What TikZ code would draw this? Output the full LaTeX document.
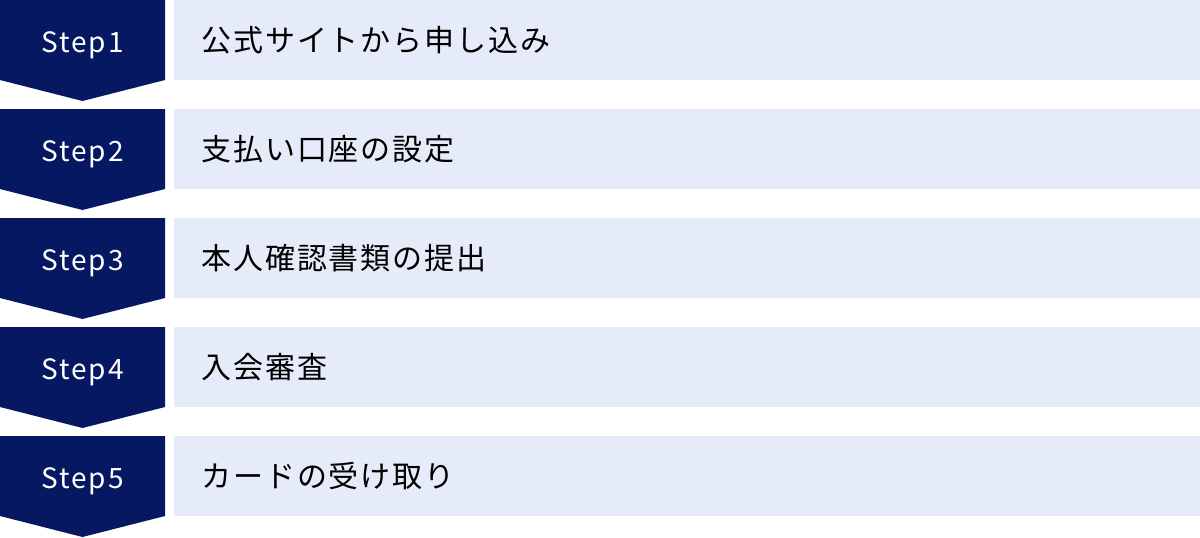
\documentclass[tikz,border=0pt]{standalone}
\usepackage{fontspec}
\setmainfont{Noto Sans CJK JP}
\newfontfamily\stepfont[LetterSpace=7]{Noto Sans CJK JP}
\newfontfamily\boxfont[LetterSpace=6.5]{Noto Sans CJK JP}
\usetikzlibrary{positioning}

\definecolor{navy}{HTML}{061862}
\definecolor{pale}{HTML}{E5EBF8}

\begin{document}
\begin{tikzpicture}[x=1pt,y=1pt,
  lbl/.style={text=white,inner sep=0pt,anchor=base,font=\stepfont\fontsize{28}{32}\selectfont},
  txt/.style={inner sep=0pt,anchor=base west,font=\boxfont\fontsize{30}{34}\selectfont}]
\useasboundingbox (0,0) rectangle (1200,-538);
\foreach \i/\t in {1/公式サイトから申し込み,2/支払い口座の設定,3/本人確認書類の提出,4/入会審査,5/カードの受け取り}{
  \pgfmathsetmacro{\yy}{-(\i-1)*109}
  \fill[navy] (0,\yy) -- (165,\yy) -- (165,\yy-80) -- (82.5,\yy-101) -- (0,\yy-80) -- cycle;
  \fill[pale] (174,\yy) rectangle (1200,\yy-80);
  \node[lbl] (step\i) at (82.5,\yy-52) {Step\i};
  \node[txt] (box\i) at (201,\yy-51) {\t};
}
\end{tikzpicture}
\end{document}
